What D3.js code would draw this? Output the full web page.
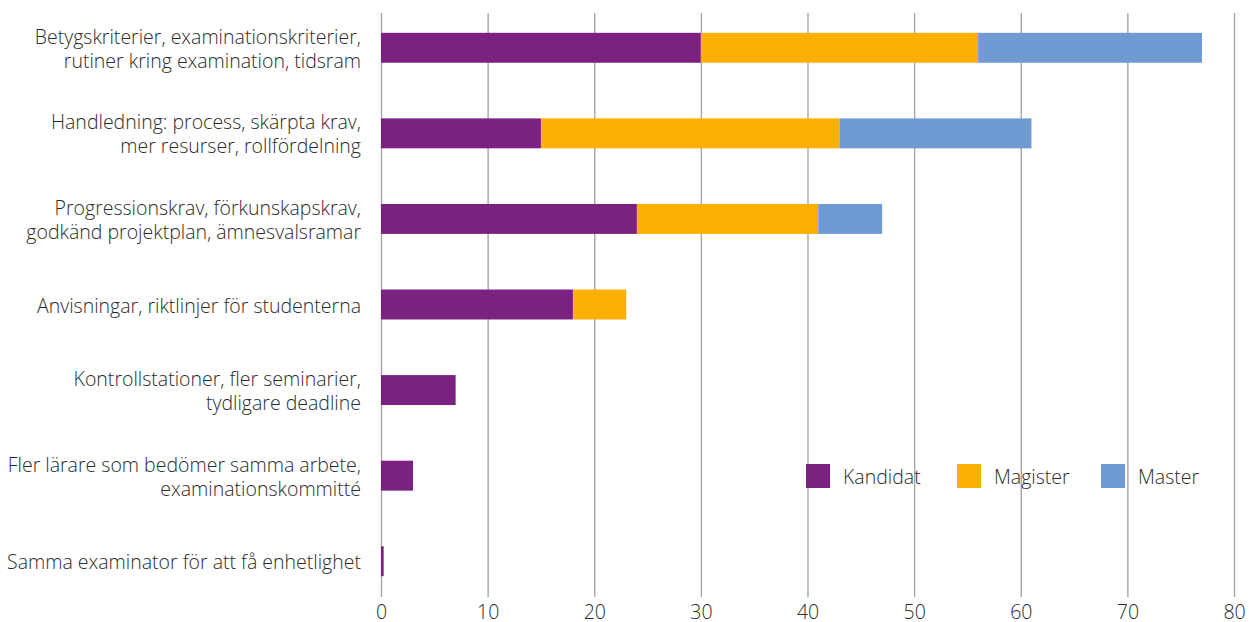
<!DOCTYPE html>
<html>
<head>
<meta charset="utf-8">
<script src="https://cdn.jsdelivr.net/npm/d3@7"></script>
<style>
  body { margin: 0; background: #fff; }
  svg text { font-family: "Open Sans", Lato, sans-serif; fill: #2b2b2b; }
</style>
</head>
<body>
<svg id="chart"></svg>
<script>
// categories, top to bottom
const categories = [
    ["Betygskriterier, examinationskriterier,", "rutiner kring examination, tidsram"],
    ["Handledning: process, skärpta krav,", "mer resurser, rollfördelning"],
    ["Progressionskrav, förkunskapskrav,", "godkänd projektplan, ämnesvalsramar"],
    ["Anvisningar, riktlinjer för studenterna"],
    ["Kontrollstationer, fler seminarier,", "tydligare deadline"],
    ["Fler lärare som bedömer samma arbete,", "examinationskommitté"],
    ["Samma examinator för att få enhetlighet"]
];
const seriesNames = ["Kandidat", "Magister", "Master"];
const kandidat = [30, 15, 24, 18, 7, 3, 0.25];
const magister = [26, 28, 17, 5, 0, 0, 0];
const master   = [21, 18, 6, 0, 0, 0, 0];
const xTicks = [0, 10, 20, 30, 40, 50, 60, 70, 80];
const colors = ["#7b217f", "#fbb003", "#6f9ad2"];

const width = 1249, height = 622;
const fontSize = 19.5;
const svg = d3.select("#chart").attr("width", width).attr("height", height);

const rows = categories.map((c, i) => ({
    key: i, label: c, Kandidat: kandidat[i], Magister: magister[i], Master: master[i]
}));
const stacked = d3.stack().keys(seriesNames)(rows);

const x = d3.scaleLinear().domain([0, 80]).range([381, 1234]);
const y = d3.scaleBand().domain(d3.range(categories.length))
    .range([5, 604]).paddingInner(0.65).paddingOuter(0.325);
const color = d3.scaleOrdinal().domain(seriesNames).range(colors);

// gridlines + tick labels
const xAxis = d3.axisBottom(x).tickValues(xTicks).tickSize(-584).tickPadding(8).tickFormat(d => d);
const xAxisG = svg.append("g")
    .attr("transform", `translate(0,597)`)
    .call(xAxis);
xAxisG.select(".domain").remove();
xAxisG.selectAll(".tick line").attr("stroke", "#a6a6a6").attr("stroke-width", 1.4);
xAxisG.selectAll(".tick text")
    .attr("font-size", fontSize).attr("font-weight", 300)
    .attr("fill", "#2b2b2b").attr("dy", "0.71em");

// bars
svg.append("g").selectAll("g")
    .data(stacked)
    .join("g")
    .attr("fill", d => color(d.key))
    .selectAll("rect")
    .data(d => d)
    .join("rect")
    .attr("x", d => x(d[0]))
    .attr("y", (d, i) => y(i))
    .attr("width", d => x(d[1]) - x(d[0]))
    .attr("height", y.bandwidth());

// category labels
const labels = svg.append("g").selectAll("text")
    .data(rows)
    .join("text")
    .attr("text-anchor", "end")
    .attr("font-size", fontSize)
    .attr("font-weight", 300)
    .attr("x", 361)
    .attr("y", d => y(d.key) + y.bandwidth() / 2 - (d.label.length - 1) * 12)
    .attr("dominant-baseline", "central");
labels.selectAll("tspan")
    .data(d => d.label)
    .join("tspan")
    .attr("x", 361)
    .attr("dy", (d, i) => i === 0 ? 0 : 24)
    .text(d => d);

// legend
const legendX = [806, 957, 1101];
const legend = svg.append("g").selectAll("g")
    .data(seriesNames)
    .join("g")
    .attr("transform", (d, i) => `translate(${legendX[i]},464)`);
legend.append("rect")
    .attr("width", 24).attr("height", 24)
    .attr("fill", d => color(d));
legend.append("text")
    .attr("x", 37).attr("y", 12)
    .attr("dominant-baseline", "central")
    .attr("font-size", fontSize).attr("font-weight", 300)
    .text(d => d);
</script>
</body>
</html>
